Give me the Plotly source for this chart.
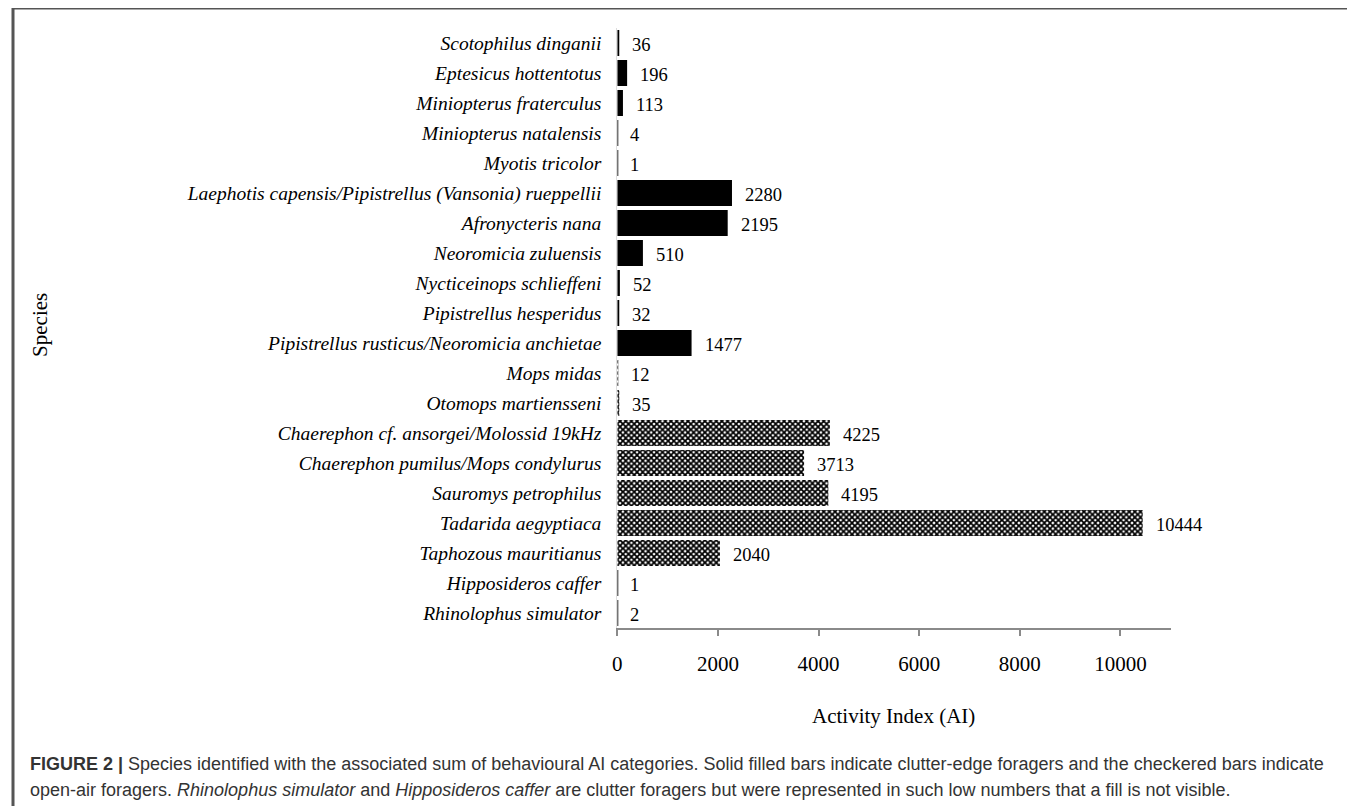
import plotly.graph_objects as go

species = [
    "Scotophilus dinganii",
    "Eptesicus hottentotus",
    "Miniopterus fraterculus",
    "Miniopterus natalensis",
    "Myotis tricolor",
    "Laephotis capensis/Pipistrellus (Vansonia) rueppellii",
    "Afronycteris nana",
    "Neoromicia zuluensis",
    "Nycticeinops schlieffeni",
    "Pipistrellus hesperidus",
    "Pipistrellus rusticus/Neoromicia anchietae",
    "Mops midas",
    "Otomops martiensseni",
    "Chaerephon cf. ansorgei/Molossid 19kHz",
    "Chaerephon pumilus/Mops condylurus",
    "Sauromys petrophilus",
    "Tadarida aegyptiaca",
    "Taphozous mauritianus",
    "Hipposideros caffer",
    "Rhinolophus simulator",
]
activity = [36, 196, 113, 4, 1, 2280, 2195, 510, 52, 32, 1477,
            12, 35, 4225, 3713, 4195, 10444, 2040, 1, 2]
# foraging guild: clutter-edge (solid), open-air (checkered), clutter
guild = ["edge", "edge", "edge", "edge", "edge", "edge", "edge", "edge",
         "edge", "edge", "edge", "open", "open", "open", "open", "open",
         "open", "open", "clutter", "clutter"]

x_ticks = [0, 2000, 4000, 6000, 8000, 10000]

W, H = 1355, 806
OFF = 8  # page body margin in the screenshot
SERIF = "Liberation Serif"
SANS = "Liberation Sans"

def px(x):
    return (x - OFF) / W

def py(y):
    return 1 - (y - OFF) / H

solid_y = [s for s, g in zip(species, guild) if g != "open"]
solid_x = [v for v, g in zip(activity, guild) if g != "open"]
open_y = [s for s, g in zip(species, guild) if g == "open"]
open_x = [v for v, g in zip(activity, guild) if g == "open"]

fig = go.Figure()
fig.add_trace(go.Bar(
    y=solid_y, x=solid_x, orientation="h",
    marker=dict(color="black", line=dict(width=0)),
    hoverinfo="x+y", showlegend=False,
))
fig.add_trace(go.Bar(
    y=open_y, x=open_x, orientation="h",
    marker=dict(color="white", line=dict(width=0),
                pattern=dict(shape="x", fgcolor="black", bgcolor="white",
                             size=4, solidity=0.68, fillmode="replace")),
    hoverinfo="x+y", showlegend=False,
))

annotations = []
for s, v in zip(species, activity):
    annotations.append(dict(
        x=v, y=s, xref="x", yref="y", text=str(v), showarrow=False,
        xanchor="left", yanchor="middle", xshift=11, yshift=-2,
        font=dict(family=SERIF, size=18.5, color="black"),
    ))

annotations.append(dict(
    x=px(35), y=py(325), xref="paper", yref="paper", text="Species",
    textangle=-90, showarrow=False, xanchor="center", yanchor="middle",
    font=dict(family=SERIF, size=21, color="black"),
))
annotations.append(dict(
    x=px(892), y=py(716), xref="paper", yref="paper", text="Activity Index (AI)",
    showarrow=False, xanchor="center", yanchor="middle",
    font=dict(family=SERIF, size=21, color="black"),
))
annotations.append(dict(
    x=px(23), y=py(764), xref="paper", yref="paper",
    text="<b>FIGURE 2 |</b> Species identified with the associated sum of behavioural AI categories. "
         "Solid filled bars indicate clutter-edge foragers and the checkered bars indicate",
    showarrow=False, xanchor="left", yanchor="middle",
    font=dict(family=SANS, size=18, color="#333333"),
))
annotations.append(dict(
    x=px(23), y=py(790), xref="paper", yref="paper",
    text="open-air foragers. <i>Rhinolophus simulator</i> and <i>Hipposideros caffer</i> are "
         "clutter foragers but were represented in such low numbers that a fill is not visible.",
    showarrow=False, xanchor="left", yanchor="middle",
    font=dict(family=SANS, size=18, color="#333333"),
))

shapes = [
    dict(type="line", xref="paper", yref="paper", x0=0, x1=1.0,
         y0=1, y1=1, line=dict(color="#555555", width=3)),
    dict(type="line", xref="paper", yref="paper", x0=0, x1=0,
         y0=1, y1=0, line=dict(color="#555555", width=3)),
]

fig.update_layout(
    width=W, height=H,
    margin=dict(l=0, r=0, t=0, b=0),
    paper_bgcolor="white", plot_bgcolor="white",
    barmode="overlay", bargap=0.14,
    annotations=annotations, shapes=shapes,
    xaxis=dict(
        domain=[px(614.5), px(1170)], range=[0, 11000],
        tickvals=x_ticks, ticktext=[str(t) for t in x_ticks],
        showgrid=False, zeroline=False,
        showline=True, linecolor="#8a8a8a", linewidth=1.5,
        ticks="outside", ticklen=6, tickwidth=1.5, tickcolor="#8a8a8a",
        ticklabelstandoff=10,
        tickfont=dict(family=SERIF, size=21, color="black"),
    ),
    yaxis=dict(
        domain=[py(628), py(28)],
        categoryorder="array", categoryarray=species,
        autorange="reversed",
        showgrid=False, zeroline=False,
        showline=True, linecolor="#dddddd", linewidth=1,
        ticks="", ticklabelstandoff=11, layer="below traces",
        tickfont=dict(family=SERIF, size=19.5, color="black", style="italic"),
    ),
)

fig.write_html("out.html")
